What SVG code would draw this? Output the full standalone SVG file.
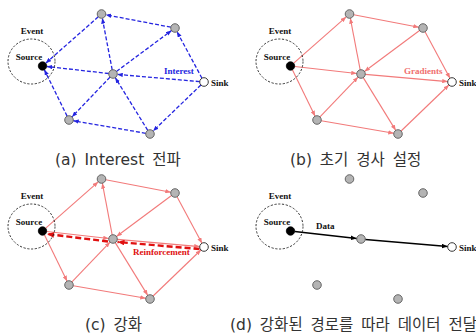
<svg xmlns="http://www.w3.org/2000/svg" width="476" height="336" viewBox="0 0 476 336">
<style>
.ev{fill:none;stroke:#222;stroke-width:0.9;stroke-dasharray:2.2 1.6}
.nd{fill:#b4b4b4;stroke:#4a4a4a;stroke-width:0.8}
.src{fill:#000;stroke:#000;stroke-width:0.8}
.snk{fill:#fff;stroke:#222;stroke-width:0.9}
.lb{font-family:"Liberation Serif",serif;font-weight:bold;font-size:9px;fill:#111}
.bl{fill:none;stroke:#2424e0;stroke-width:1.3;stroke-dasharray:4 2;marker-end:url(#ab)}
.pk{fill:none;stroke:#f27a7a;stroke-width:1.1;marker-end:url(#ap)}
.rd{fill:none;stroke:#e01010;stroke-width:2.4;stroke-dasharray:6 3;marker-end:url(#ar)}
.bk{fill:none;stroke:#000;stroke-width:1.5;marker-end:url(#ak)}
.cap{font-family:"DejaVu Sans","Noto Sans CJK KR",sans-serif;font-size:15.5px;fill:#333;word-spacing:3px}
</style>
<defs>
<marker id="ab" viewBox="0 0 10 8" refX="10" refY="4" markerWidth="5.5" markerHeight="4.4" orient="auto" markerUnits="userSpaceOnUse"><path d="M0,0L10,4L0,8z" fill="#2424e0"/></marker>
<marker id="ap" viewBox="0 0 10 8" refX="10" refY="4" markerWidth="5.5" markerHeight="4.4" orient="auto" markerUnits="userSpaceOnUse"><path d="M0,0L10,4L0,8z" fill="#f27a7a"/></marker>
<marker id="ar" viewBox="0 0 10 8" refX="10" refY="4" markerWidth="7" markerHeight="5.6" orient="auto" markerUnits="userSpaceOnUse"><path d="M0,0L10,4L0,8z" fill="#e01010"/></marker>
<marker id="ak" viewBox="0 0 10 8" refX="10" refY="4" markerWidth="6" markerHeight="4.8" orient="auto" markerUnits="userSpaceOnUse"><path d="M0,0L10,4L0,8z" fill="#000"/></marker>
</defs>

<!-- Panel (a) -->
<g id="panel-a">
<g id="connectors-a">
<line class="bl" x1="201.97" y1="78.21" x2="177.03" y2="31.79"/>
<line class="bl" x1="199.72" y1="81.62" x2="117.28" y2="74.38"/>
<line class="bl" x1="200.9" y1="84.98" x2="153.1" y2="131.02"/>
<line class="bl" x1="170.78" y1="27.2" x2="105.72" y2="14.8"/>
<line class="bl" x1="116.45" y1="71.44" x2="171.55" y2="30.56"/>
<line class="bl" x1="112.19" y1="69.78" x2="102.31" y2="18.22"/>
<line class="bl" x1="108.73" y1="73.51" x2="46.77" y2="66.49"/>
<line class="bl" x1="110.03" y1="77.11" x2="71.97" y2="116.89"/>
<line class="bl" x1="147.74" y1="130.34" x2="115.26" y2="77.66"/>
<line class="bl" x1="145.76" y1="133.27" x2="73.24" y2="120.73"/>
<line class="bl" x1="98.27" y1="16.84" x2="45.73" y2="63.16"/>
<line class="bl" x1="67.11" y1="116.14" x2="44.39" y2="69.86"/>
</g>
<g id="event-a"><ellipse class="ev" cx="31.5" cy="61.5" rx="23.5" ry="22.5"/><text class="lb" x="32" y="34" text-anchor="middle">Event</text><text class="lb" x="29" y="60" text-anchor="middle">Source</text></g>
<g id="a-source"><circle class="src" cx="42.5" cy="66" r="4.2"/></g>
<g id="a-top"><circle class="nd" cx="101.5" cy="14" r="4.3"/></g>
<g id="a-ur"><circle class="nd" cx="175" cy="28" r="4.3"/></g>
<g id="a-center"><circle class="nd" cx="113" cy="74" r="4.3"/></g>
<g id="a-bl"><circle class="nd" cx="69" cy="120" r="4.3"/></g>
<g id="a-bottom"><circle class="nd" cx="150" cy="134" r="4.3"/></g>
<g id="a-sink"><circle class="snk" cx="204" cy="82" r="4.3"/><text class="lb" x="211" y="86">Sink</text></g>
<text class="lb" x="164" y="74" style="fill:#2424e0">Interest</text>
<text class="cap" x="55" y="165">(a) Interest 전파</text>
</g>

<!-- Panel (b) -->
<g id="panel-b" transform="translate(248,0)">
<g id="connectors-b">
<line class="pk" x1="45.73" y1="63.16" x2="98.27" y2="16.84"/>
<line class="pk" x1="105.72" y1="14.8" x2="170.78" y2="27.2"/>
<line class="pk" x1="177.03" y1="31.79" x2="201.97" y2="78.21"/>
<line class="pk" x1="46.77" y1="66.49" x2="108.73" y2="73.51"/>
<line class="pk" x1="112.19" y1="69.78" x2="102.31" y2="18.22"/>
<line class="pk" x1="171.55" y1="30.56" x2="116.45" y2="71.44"/>
<line class="pk" x1="117.28" y1="74.38" x2="199.72" y2="81.62"/>
<line class="pk" x1="44.39" y1="69.86" x2="67.11" y2="116.14"/>
<line class="pk" x1="71.97" y1="116.89" x2="110.03" y2="77.11"/>
<line class="pk" x1="73.24" y1="120.73" x2="145.76" y2="133.27"/>
<line class="pk" x1="115.26" y1="77.66" x2="147.74" y2="130.34"/>
<line class="pk" x1="153.1" y1="131.02" x2="200.9" y2="84.98"/>
</g>
<g id="event-b"><ellipse class="ev" cx="31.5" cy="61.5" rx="23.5" ry="22.5"/><text class="lb" x="32" y="34" text-anchor="middle">Event</text><text class="lb" x="29" y="60" text-anchor="middle">Source</text></g>
<g id="b-source"><circle class="src" cx="42.5" cy="66" r="4.2"/></g>
<g id="b-top"><circle class="nd" cx="101.5" cy="14" r="4.3"/></g>
<g id="b-ur"><circle class="nd" cx="175" cy="28" r="4.3"/></g>
<g id="b-center"><circle class="nd" cx="113" cy="74" r="4.3"/></g>
<g id="b-bl"><circle class="nd" cx="69" cy="120" r="4.3"/></g>
<g id="b-bottom"><circle class="nd" cx="150" cy="134" r="4.3"/></g>
<g id="b-sink"><circle class="snk" cx="204" cy="82" r="4.3"/><text class="lb" x="211" y="86">Sink</text></g>
<text class="lb" x="156" y="74" style="fill:#f07070">Gradients</text>
<text class="cap" x="42" y="165">(b) 초기 경사 설정</text>
</g>

<!-- Panel (c) -->
<g id="panel-c" transform="translate(0,165)">
<g id="connectors-c">
<line class="pk" x1="45.73" y1="63.16" x2="98.27" y2="16.84"/>
<line class="pk" x1="105.72" y1="14.8" x2="170.78" y2="27.2"/>
<line class="pk" x1="177.03" y1="31.79" x2="201.97" y2="78.21"/>
<line class="pk" x1="46.77" y1="66.49" x2="108.73" y2="73.51"/>
<line class="pk" x1="112.19" y1="69.78" x2="102.31" y2="18.22"/>
<line class="pk" x1="171.55" y1="30.56" x2="116.45" y2="71.44"/>
<line class="pk" x1="117.28" y1="74.38" x2="199.72" y2="81.62"/>
<line class="pk" x1="44.39" y1="69.86" x2="67.11" y2="116.14"/>
<line class="pk" x1="71.97" y1="116.89" x2="110.03" y2="77.11"/>
<line class="pk" x1="73.24" y1="120.73" x2="145.76" y2="133.27"/>
<line class="pk" x1="115.26" y1="77.66" x2="147.74" y2="130.34"/>
<line class="pk" x1="153.1" y1="131.02" x2="200.9" y2="84.98"/>
<line class="rd" x1="199.5" y1="84" x2="117.5" y2="77"/>
<line class="rd" x1="108" y1="76.5" x2="47" y2="69"/>
</g>
<g id="event-c"><ellipse class="ev" cx="31.5" cy="61.5" rx="23.5" ry="22.5"/><text class="lb" x="32" y="34" text-anchor="middle">Event</text><text class="lb" x="29" y="60" text-anchor="middle">Source</text></g>
<g id="c-source"><circle class="src" cx="42.5" cy="66" r="4.2"/></g>
<g id="c-top"><circle class="nd" cx="101.5" cy="14" r="4.3"/></g>
<g id="c-ur"><circle class="nd" cx="175" cy="28" r="4.3"/></g>
<g id="c-center"><circle class="nd" cx="113" cy="74" r="4.3"/></g>
<g id="c-bl"><circle class="nd" cx="69" cy="120" r="4.3"/></g>
<g id="c-bottom"><circle class="nd" cx="150" cy="134" r="4.3"/></g>
<g id="c-sink"><circle class="snk" cx="204" cy="82" r="4.3"/><text class="lb" x="211" y="86">Sink</text></g>
<text class="lb" x="133" y="90" style="fill:#e01010">Reinforcement</text>
<text class="cap" x="85" y="165">(c) 강화</text>
</g>

<!-- Panel (d) -->
<g id="panel-d" transform="translate(248,165)">
<g id="connectors-d">
<line class="bk" x1="46.77" y1="66.49" x2="108.73" y2="73.51"/>
<line class="bk" x1="117.28" y1="74.38" x2="199.72" y2="81.62"/>
</g>
<g id="event-d"><ellipse class="ev" cx="31.5" cy="61.5" rx="23.5" ry="22.5"/><text class="lb" x="32" y="34" text-anchor="middle">Event</text><text class="lb" x="29" y="60" text-anchor="middle">Source</text></g>
<g id="d-source"><circle class="src" cx="42.5" cy="66" r="4.2"/></g>
<g id="d-top"><circle class="nd" cx="101.5" cy="14" r="4.3"/></g>
<g id="d-ur"><circle class="nd" cx="175" cy="28" r="4.3"/></g>
<g id="d-center"><circle class="nd" cx="113" cy="74" r="4.3"/></g>
<g id="d-bl"><circle class="nd" cx="69" cy="120" r="4.3"/></g>
<g id="d-bottom"><circle class="nd" cx="150" cy="134" r="4.3"/></g>
<g id="d-sink"><circle class="snk" cx="204" cy="82" r="4.3"/><text class="lb" x="211" y="86">Sink</text></g>
<text class="lb" x="68" y="64">Data</text>
<text class="cap" x="-18" y="165">(d) 강화된 경로를 따라 데이터 전달</text>
</g>
</svg>
